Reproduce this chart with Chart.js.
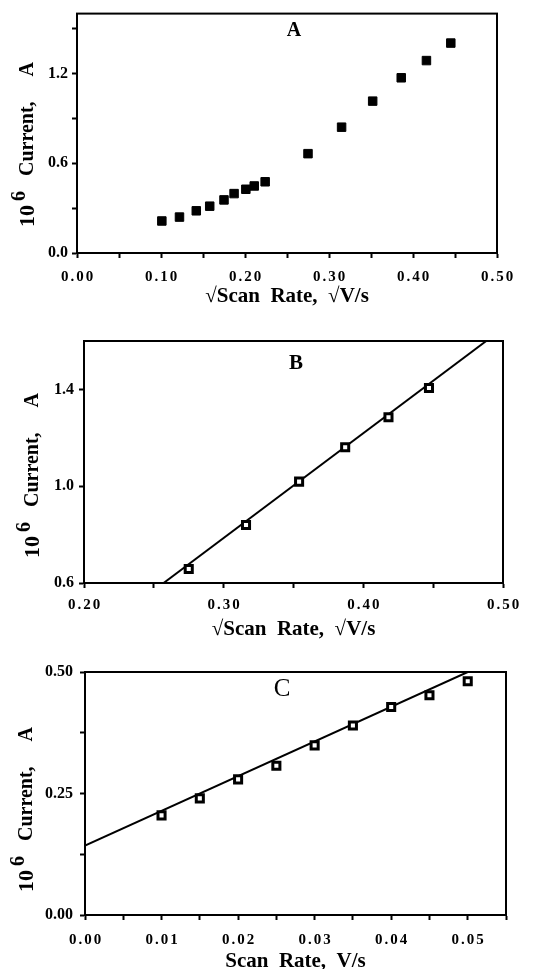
<!DOCTYPE html>
<html>
<head>
<meta charset="utf-8">
<script src="https://cdn.jsdelivr.net/npm/chart.js@4.4.0/dist/chart.umd.min.js"></script>
<style>
  html, body { margin: 0; padding: 0; background: #fff; overflow: hidden; }
  #wrap { position: relative; width: 555px; height: 969px; overflow: hidden; }
  canvas { position: absolute; left: 0; }
</style>
</head>
<body>
<div id="wrap">
  <canvas id="chartA" width="555" height="320" style="top:0"></canvas>
  <canvas id="chartB" width="555" height="325" style="top:320px"></canvas>
  <canvas id="chartC" width="555" height="340" style="top:645px"></canvas>
</div>
<script>
// panel A - current vs square root of scan rate, all points
const sqrtRateA = [0.101, 0.122, 0.142, 0.158, 0.175, 0.187, 0.201, 0.211, 0.224, 0.275, 0.315, 0.352, 0.386, 0.416, 0.445]
const currentA = [0.214, 0.24, 0.282, 0.313, 0.355, 0.397, 0.426, 0.448, 0.476, 0.664, 0.841, 1.015, 1.171, 1.286, 1.403]
const xTicksA = [0, 0.05, 0.1, 0.15, 0.2, 0.25, 0.3, 0.35, 0.4, 0.45, 0.5]
const xLabelsA = ['0.00', '', '0.10', '', '0.20', '', '0.30', '', '0.40', '', '0.50']
const yTicksA = [0, 0.3, 0.6, 0.9, 1.2, 1.5]
const yLabelsA = ['0.0', '', '0.6', '', '1.2', '']

// panel B - upper points with fitted line
const sqrtRateB = [0.275, 0.316, 0.354, 0.387, 0.418, 0.447]
const currentB = [0.658, 0.84, 1.019, 1.161, 1.285, 1.406]
const fitXB = [0.257, 0.488]
const fitYB = [0.6, 1.6]
const xTicksB = [0.2, 0.25, 0.3, 0.35, 0.4, 0.45, 0.5]
const xLabelsB = ['0.20', '', '0.30', '', '0.40', '', '0.50']
const yTicksB = [0.6, 1.0, 1.4]
const yLabelsB = ['0.6', '1.0', '1.4']

// panel C - current vs scan rate with fitted line
const rateC = [0.01, 0.015, 0.02, 0.025, 0.03, 0.035, 0.04, 0.045, 0.05]
const currentC = [0.205, 0.24, 0.279, 0.307, 0.349, 0.39, 0.428, 0.452, 0.481]
const fitXC = [0, 0.05]
const fitYC = [0.143, 0.5]
const xTicksC = [0, 0.005, 0.01, 0.015, 0.02, 0.025, 0.03, 0.035, 0.04, 0.045, 0.05, 0.055]
const xLabelsC = ['0.00', '', '0.01', '', '0.02', '', '0.03', '', '0.04', '', '0.05', '']
const yTicksC = [0, 0.125, 0.25, 0.375, 0.5]
const yLabelsC = ['0.00', '', '0.25', '', '0.50']

const serif = '"Liberation Serif", "Times New Roman", serif'
const pairs = (xs, ys) => xs.map((x, i) => ({x: x, y: ys[i]}))

const makePanel = (id, p) => {
    const H = document.getElementById(id).height

    const framePlugin = {
        id: 'frame' + id,
        afterDraw(chart) {
            const {ctx, chartArea: a, scales: {x}} = chart
            ctx.save()
            ctx.strokeStyle = '#000'
            ctx.lineWidth = 2
            ctx.strokeRect(a.left, a.top, a.right - a.left, a.bottom - a.top)

            // x tick labels, spaced out like the original
            ctx.fillStyle = '#000'
            ctx.font = 'bold 15px ' + serif
            ctx.letterSpacing = '2px'
            ctx.textAlign = 'center'
            ctx.textBaseline = 'middle'
            p.xTicks.forEach((v, i) => {
                if (!p.xLabels[i]) return
                ctx.fillText(p.xLabels[i], x.getPixelForValue(v) + 1, a.bottom + p.xLabelGap)
            })

            // panel letter
            ctx.letterSpacing = '0px'
            ctx.font = p.letterFont
            ctx.fillText(p.letter, p.letterX, p.letterY)

            // y title: 10^6  Current, A
            ctx.translate(p.yTitleX, p.yTitleBottom)
            ctx.rotate(-Math.PI / 2)
            ctx.textAlign = 'left'
            ctx.font = 'bold 22px ' + serif
            ctx.fillText('10', 0, 0)
            let w = ctx.measureText('10').width + 4
            ctx.font = 'bold 20px ' + serif
            ctx.fillText('6', w, -8)
            w += ctx.measureText('6').width
            ctx.fillText('   Current,     A', w, 0)
            ctx.restore()
        }
    }

    return new Chart(document.getElementById(id), {
        type: 'scatter',
        data: {
            datasets: [
                {
                    data: pairs(p.xs, p.ys),
                    pointStyle: 'rect',
                    pointRadius: p.markSize,
                    pointBorderWidth: p.markBorder,
                    backgroundColor: p.markFill,
                    borderColor: '#000'
                },
                {
                    data: p.fitX ? pairs(p.fitX, p.fitY) : [],
                    showLine: true,
                    pointRadius: 0,
                    borderColor: '#000',
                    borderWidth: 2
                }
            ]
        },
        options: {
            responsive: false,
            animation: false,
            devicePixelRatio: 1,
            events: [],
            layout: { padding: { left: 0, top: p.top, right: 555 - p.right, bottom: 0 } },
            plugins: { legend: { display: false }, tooltip: { enabled: false } },
            scales: {
                x: {
                    type: 'linear',
                    min: p.xMin,
                    max: p.xMax,
                    afterBuildTicks: s => { s.ticks = p.xTicks.map(v => ({value: v})) },
                    afterFit: s => { s.height = H - p.bottom },
                    grid: { drawOnChartArea: false, drawTicks: true, tickLength: 5, tickWidth: 2, tickColor: '#000' },
                    border: { display: true, color: '#000', width: 2 },
                    ticks: { display: false },
                    title: {
                        display: true,
                        text: p.xTitle,
                        color: '#000',
                        font: { family: serif, size: 21, weight: 'bold' },
                        padding: { top: 0, bottom: H - p.xTitleY - 12.6 }
                    }
                },
                y: {
                    type: 'linear',
                    min: p.yMin,
                    max: p.yMax,
                    afterBuildTicks: s => { s.ticks = p.yTicks.map(v => ({value: v})) },
                    afterFit: s => { s.width = p.left },
                    grid: { drawOnChartArea: false, drawTicks: true, tickLength: 5, tickWidth: 2, tickColor: '#000' },
                    border: { display: true, color: '#000', width: 2 },
                    ticks: {
                        autoSkip: false,
                        color: '#000',
                        padding: p.yLabelPad,
                        font: { family: serif, size: 16, weight: 'bold' },
                        callback: (v, i) => p.yLabels[i]
                    }
                }
            }
        },
        plugins: [framePlugin]
    })
}

makePanel('chartA', {
    xs: sqrtRateA, ys: currentA,
    xMin: 0, xMax: 0.5, yMin: 0, yMax: 1.6,
    xTicks: xTicksA, xLabels: xLabelsA, yTicks: yTicksA, yLabels: yLabelsA,
    left: 77, right: 497, top: 13, bottom: 253,
    xLabelGap: 24, xTitleY: 297, yLabelPad: 4,
    xTitle: '√Scan  Rate,  √V/s',
    letter: 'A', letterFont: 'bold 20px ' + serif, letterX: 294, letterY: 31,
    yTitleX: 28, yTitleBottom: 227,
    markFill: '#000', markBorder: 1, markSize: 6
})

makePanel('chartB', {
    xs: sqrtRateB, ys: currentB, fitX: fitXB, fitY: fitYB,
    xMin: 0.2, xMax: 0.5, yMin: 0.6, yMax: 1.6,
    xTicks: xTicksB, xLabels: xLabelsB, yTicks: yTicksB, yLabels: yLabelsB,
    left: 84, right: 503, top: 21, bottom: 263,
    xLabelGap: 22, xTitleY: 310, yLabelPad: 5,
    xTitle: '√Scan  Rate,  √V/s',
    letter: 'B', letterFont: 'bold 21px ' + serif, letterX: 296, letterY: 44,
    yTitleX: 33, yTitleBottom: 238,
    markFill: '#fff', markBorder: 3, markSize: 5
})

makePanel('chartC', {
    xs: rateC, ys: currentC, fitX: fitXC, fitY: fitYC,
    xMin: 0, xMax: 0.055, yMin: 0, yMax: 0.5,
    xTicks: xTicksC, xLabels: xLabelsC, yTicks: yTicksC, yLabels: yLabelsC,
    left: 85, right: 506, top: 27, bottom: 270,
    xLabelGap: 25, xTitleY: 317, yLabelPad: 7,
    xTitle: 'Scan  Rate,  V/s',
    letter: 'C', letterFont: '25px ' + serif, letterX: 282, letterY: 44,
    yTitleX: 27, yTitleBottom: 247,
    markFill: '#fff', markBorder: 3, markSize: 5
})
</script>
</body>
</html>
